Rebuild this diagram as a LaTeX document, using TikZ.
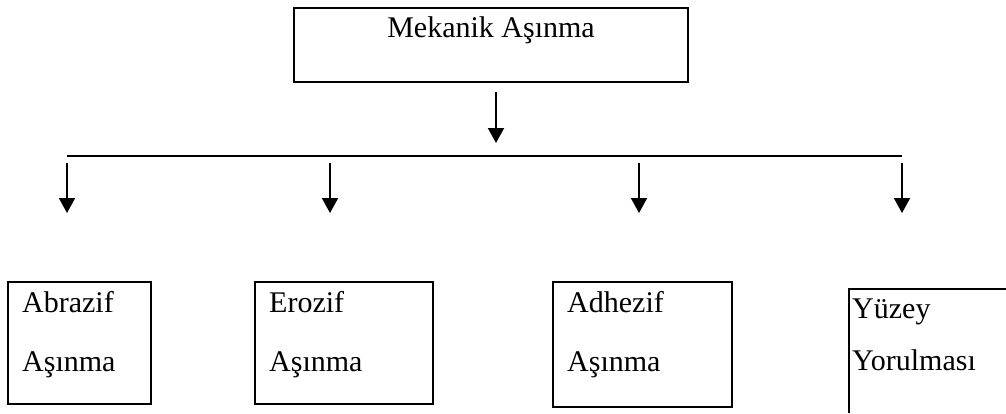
\documentclass[tikz,border=0pt]{standalone}
\usepackage{fontspec}
\setmainfont{Liberation Serif}
\usetikzlibrary{arrows.meta}

\begin{document}
\begin{tikzpicture}[x=1pt, y=-1pt,
  box/.style={draw, line width=1.5pt, inner sep=0pt},
  txt/.style={font=\fontsize{30}{59}\selectfont, align=left, inner sep=0pt, anchor=base west},
  down/.style={line width=2pt, -{Triangle[width=16pt,length=15pt]}}]
\useasboundingbox (0,0) rectangle (1006,413);

% top box
\node (top) at (491,45) [box, minimum width=394pt, minimum height=74pt] {};
\node (title) at (491,37) [txt, anchor=base] {Mekanik Aşınma};

% arrows
\coordinate (t1) at (496,92);
\coordinate (t2) at (496,143);
\coordinate (hl) at (67,156);
\coordinate (hr) at (902,156);
\draw[down] (t1) -- (t2);
\draw[line width=2pt] (hl) -- (hr);

\coordinate (a1) at (67,163);   \coordinate (a2) at (67,213);
\coordinate (b1) at (330,163);  \coordinate (b2) at (330,213);
\coordinate (c1) at (639,163);  \coordinate (c2) at (639,213);
\coordinate (d1) at (902,163);  \coordinate (d2) at (902,213);
\draw[down] (a1) -- (a2);
\draw[down] (b1) -- (b2);
\draw[down] (c1) -- (c2);
\draw[down] (d1) -- (d2);

% bottom boxes
\node (abr) at (79.5,343) [box, minimum width=143pt, minimum height=122pt] {};
\node (ero) at (344,343) [box, minimum width=178pt, minimum height=122pt] {};
\node (adh) at (642.5,344.5) [box, minimum width=179pt, minimum height=125pt] {};
\draw[line width=1.5pt] (849,413) -- (849,289) -- (1006,289);

% base is the last line
\node (abrt) at (22,371) [txt] {Abrazif\\Aşınma};
\node (erot) at (269,371) [txt] {Erozif\\Aşınma};
\node (adht) at (567,371) [txt] {Adhezif\\Aşınma};
\node (yuzt) at (852,370) [txt] {Yüzey\\[-7pt]Yorulması};
\end{tikzpicture}
\end{document}
